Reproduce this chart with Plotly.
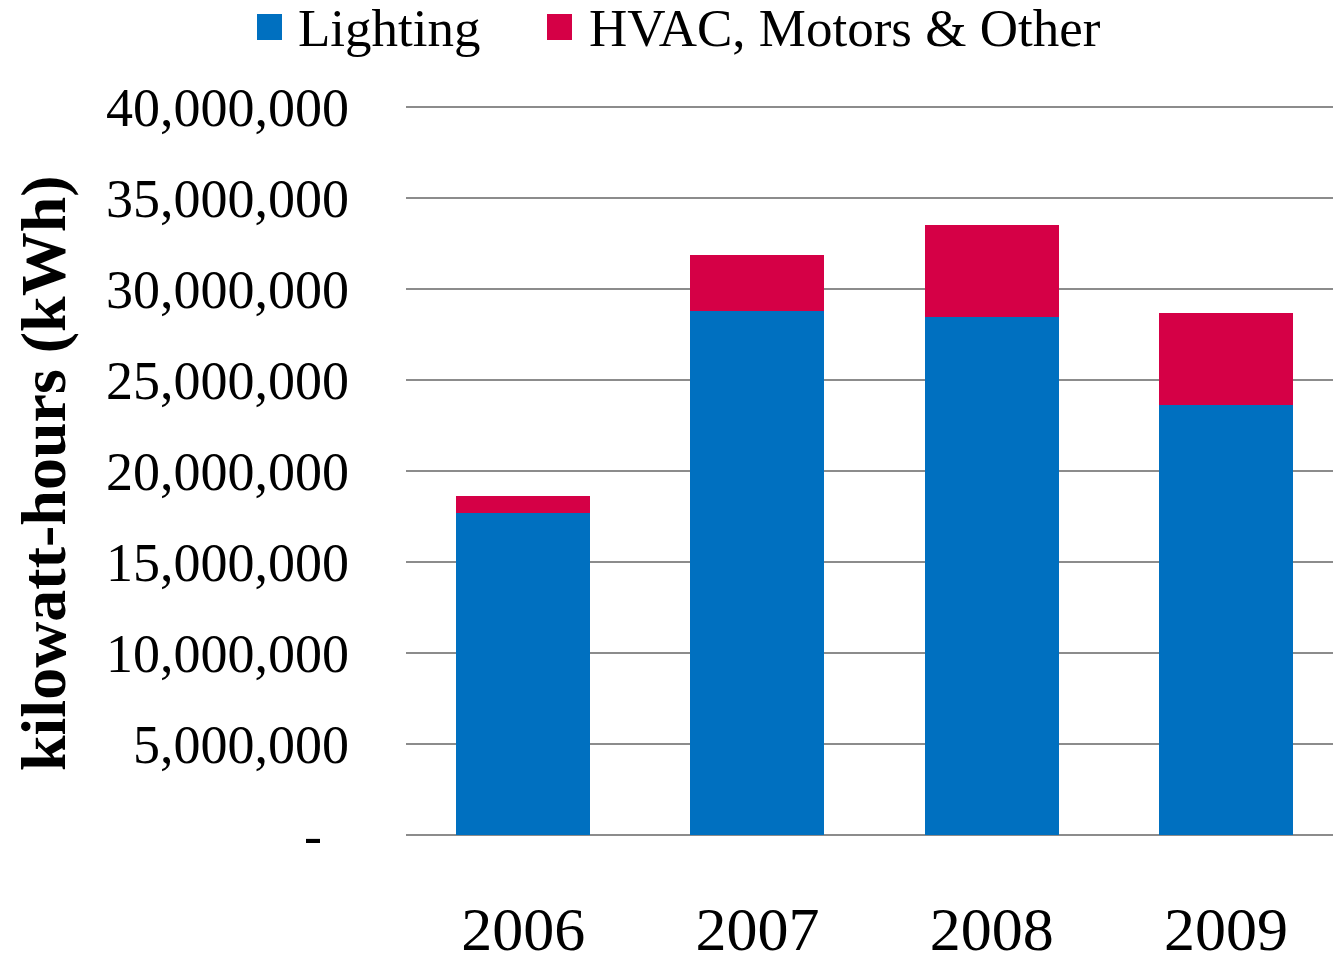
import plotly.graph_objects as go

years = ["2006", "2007", "2008", "2009"]
lighting = [17.7e6, 28.8e6, 28.45e6, 23.6e6]
hvac = [0.93e6, 3.07e6, 5.05e6, 5.1e6]
tick_vals = [0, 5e6, 10e6, 15e6, 20e6, 25e6, 30e6, 35e6, 40e6]
tick_text = ["-\u00a0\u00a0", "5,000,000", "10,000,000", "15,000,000", "20,000,000",
             "25,000,000", "30,000,000", "35,000,000", "40,000,000"]
series_names = ["Lighting", "HVAC, Motors & Other"]
colors = ["#0070C0", "#D50046"]

FONT = "Liberation Serif"
L, T, B, W, H = 406, 104, 121, 1333, 956
PW, PH = W - L, H - T - B
YTOP = 40e6 * PH / (PH - 3)  # puts the 40M gridline 3px below the plot edge
CAT_PX = 234.3  # category pitch; plot area is cropped at the right edge
XTOP = -0.5 + PW / CAT_PX

def px(x):
    return (x - L) / PW

def py(y):
    return (H - B - y) / PH

fig = go.Figure()
fig.add_trace(go.Bar(x=years, y=lighting, name=series_names[0], marker_color=colors[0],
                     marker_line_width=0))
fig.add_trace(go.Bar(x=years, y=hvac, name=series_names[1], marker_color=colors[1],
                     marker_line_width=0))

fig.update_layout(
    barmode="stack",
    bargap=0.428,
    width=W, height=H,
    margin=dict(l=L, r=0, t=T, b=B, autoexpand=False),
    plot_bgcolor="white", paper_bgcolor="white",
    font=dict(family=FONT, color="black"),
    showlegend=False,
    xaxis=dict(range=[-0.5, XTOP], showgrid=False, showline=False, ticks="", automargin=False,
               tickfont=dict(size=62, family=FONT), ticklabelstandoff=52),
    yaxis=dict(range=[0, YTOP], tickvals=tick_vals, ticktext=tick_text, automargin=False,
               showgrid=True, gridcolor="#8C8C8C", gridwidth=2,
               zeroline=True, zerolinecolor="#8C8C8C", zerolinewidth=2,
               ticks="", tickfont=dict(size=54, family=FONT), ticklabelstandoff=56),
)

# legend (custom, to match the large square swatches)
legend_items = [(257, 296), (547, 587)]
for (sx, tx), name, c in zip(legend_items, series_names, colors):
    fig.add_shape(type="rect", xref="paper", yref="paper",
                  x0=px(sx), x1=px(sx + 25), y0=py(40), y1=py(14),
                  fillcolor=c, line_width=0)
    fig.add_annotation(text=name, xref="paper", yref="paper", x=px(tx), y=py(28),
                       xanchor="left", yanchor="middle", showarrow=False,
                       font=dict(size=53, family=FONT, color="black"))

fig.add_annotation(text="<b>kilowatt-hours (kWh)</b>", xref="paper", yref="paper",
                   x=px(43), xanchor="center", y=py(473), yanchor="middle",
                   textangle=-90, showarrow=False,
                   font=dict(size=64, family=FONT, color="black"))

fig.write_html("out.html", config={"displayModeBar": False},
               post_script="document.body.style.margin='0';document.body.style.padding='0';")
